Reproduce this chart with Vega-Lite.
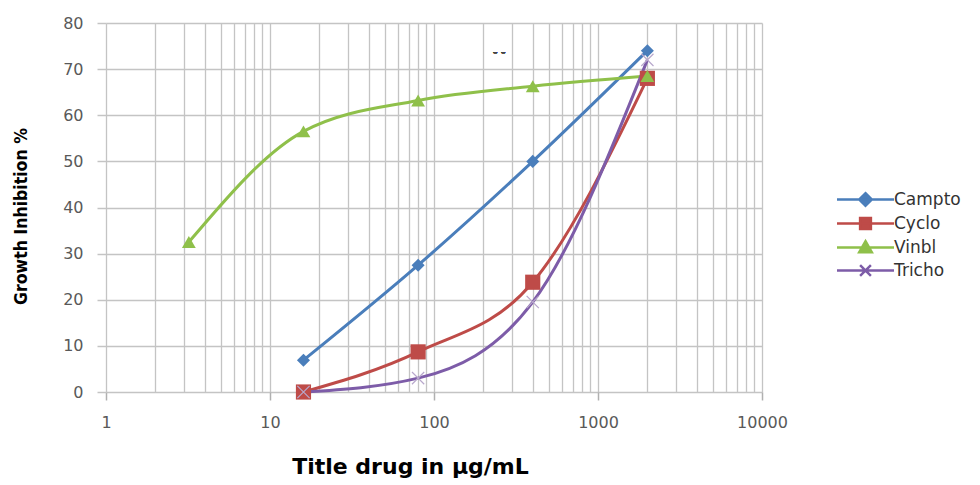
{
  "$schema": "https://vega.github.io/schema/vega-lite/v6.json",
  "width": 656,
  "height": 369,
  "autosize": {"type": "none"},
  "padding": {"left": 106, "top": 23, "right": 218, "bottom": 93},
  "background": "white",
  "config": {"view": {"stroke": null}},
  "data": {"values": [
    {"drug": "Campto", "conc": 16, "inhibition": 6.9},
    {"drug": "Campto", "conc": 80, "inhibition": 27.5},
    {"drug": "Campto", "conc": 400, "inhibition": 50},
    {"drug": "Campto", "conc": 2000, "inhibition": 74},
    {"drug": "Cyclo", "conc": 16, "inhibition": 0},
    {"drug": "Cyclo", "conc": 80, "inhibition": 8.7},
    {"drug": "Cyclo", "conc": 400, "inhibition": 23.8},
    {"drug": "Cyclo", "conc": 2000, "inhibition": 68},
    {"drug": "Vinbl", "conc": 3.2, "inhibition": 32.5},
    {"drug": "Vinbl", "conc": 16, "inhibition": 56.5},
    {"drug": "Vinbl", "conc": 80, "inhibition": 63.2},
    {"drug": "Vinbl", "conc": 400, "inhibition": 66.3},
    {"drug": "Vinbl", "conc": 2000, "inhibition": 68.5},
    {"drug": "Tricho", "conc": 16, "inhibition": 0},
    {"drug": "Tricho", "conc": 80, "inhibition": 3},
    {"drug": "Tricho", "conc": 400, "inhibition": 19.5},
    {"drug": "Tricho", "conc": 2000, "inhibition": 72}
  ]},
  "encoding": {
    "x": {
      "field": "conc", "type": "quantitative",
      "scale": {"type": "log", "domain": [1, 10000], "nice": false},
      "axis": {
        "values": [1,2,3,4,5,6,7,8,9,10,20,30,40,50,60,70,80,90,100,200,300,400,500,600,700,800,900,1000,2000,3000,4000,5000,6000,7000,8000,9000,10000],
        "labelExpr": "indexof([1,10,100,1000,10000], datum.value) >= 0 ? format(datum.value, 'd') : ''",
        "grid": true,
        "gridColor": "#c4c4c4",
        "gridWidth": 1.3,
        "domain": false,
        "tickColor": "#b0b0b0",
        "tickWidth": 1.5,
        "tickSize": 8,
        "tickOpacity": {"condition": {"test": "indexof([1,10,100,1000,10000], datum.value) >= 0", "value": 1}, "value": 0},
        "labelFont": "DejaVu Sans",
        "labelFontSize": 16,
        "labelColor": "#595959",
        "labelPadding": 14,
        "labelFlush": false,
        "labelOverlap": false,
        "title": "Title drug in μg/mL",
        "titleFont": "DejaVu Sans",
        "titleFontSize": 22,
        "titleFontWeight": "bold",
        "titleColor": "#000000",
        "titleX": 304,
        "titleAnchor": "middle",
        "titlePadding": 26
      }
    },
    "y": {
      "field": "inhibition", "type": "quantitative",
      "scale": {"domain": [0, 80], "nice": false},
      "axis": {
        "values": [0,10,20,30,40,50,60,70,80],
        "grid": true,
        "gridColor": "#c4c4c4",
        "gridWidth": 1.5,
        "domain": false,
        "tickColor": "#c4c4c4",
        "tickWidth": 1.5,
        "tickSize": 9,
        "labelFont": "DejaVu Sans",
        "labelFontSize": 16,
        "labelColor": "#595959",
        "labelPadding": 14,
        "title": "Growth Inhibition %",
        "titleFont": "DejaVu Sans Condensed",
        "titleFontSize": 17.5,
        "titleFontWeight": "bold",
        "titleColor": "#000000",
        "titleY": 193,
        "titlePadding": 32
      }
    },
    "color": {
      "field": "drug", "type": "nominal",
      "scale": {"domain": ["Campto", "Cyclo", "Vinbl", "Tricho"], "range": ["#4a7ebb", "#be4b48", "#8fc04a", "#7d5ca8"]},
      "legend": {
        "title": null,
        "orient": "none",
        "legendX": 751,
        "legendY": 168,
        "symbolSize": 144,
        "symbolStrokeWidth": 2.5,
        "labelFont": "DejaVu Sans",
        "labelFontSize": 17,
        "labelColor": "#333333",
        "labelOffset": 20,
        "rowPadding": 2,
        "encode": {
          "symbols": {
            "update": {
              "shape": {"signal": "datum.value === 'Campto' ? 'M-4.75,0H4.75M0,-1.05L1.05,0L0,1.05L-1.05,0Z' : datum.value === 'Cyclo' ? 'M-4.75,0H4.75M-0.9,-0.9H0.9V0.9H-0.9Z' : datum.value === 'Vinbl' ? 'M-4.75,0H4.75M0,-1.05L1.05,0.8H-1.05Z' : 'M-4.75,0H4.75M-0.9,-0.9L0.9,0.9M-0.9,0.9L0.9,-0.9'"},
              "fill": {"scale": "color", "field": "value"},
              "stroke": {"scale": "color", "field": "value"},
              "strokeWidth": {"value": 2.5},
              "opacity": {"value": 1}
            }
          }
        }
      }
    }
  },
  "layer": [
    {
      "mark": {"type": "line", "interpolate": "monotone", "strokeWidth": 3},
      "encoding": {
        "order": {"field": "conc", "type": "quantitative"}
      }
    },
    {
      "transform": [{"filter": "datum.drug === 'Campto'"}],
      "mark": {"type": "point", "filled": true, "opacity": 1, "shape": "diamond", "size": 170}
    },
    {
      "transform": [{"filter": "datum.drug === 'Cyclo'"}],
      "mark": {"type": "point", "filled": true, "opacity": 1, "shape": "square", "size": 230}
    },
    {
      "transform": [{"filter": "datum.drug === 'Vinbl'"}],
      "mark": {"type": "point", "filled": true, "opacity": 1, "shape": "triangle-up", "size": 190}
    },
    {
      "transform": [{"filter": "datum.drug === 'Tricho'"}],
      "mark": {"type": "point", "filled": false, "opacity": 1, "shape": "M-1,-1L1,1M-1,1L1,-1", "size": 150, "strokeWidth": 1.2, "stroke": "#b8a8cc"},
      "encoding": {"color": {"value": "#b8a8cc"}}
    },
    {
      "mark": {"type": "text", "text": "- -", "fontSize": 14, "color": "#444444", "font": "Open Sans"},
      "encoding": {
        "x": {"datum": 250},
        "y": {"datum": 73.5},
        "color": {"value": "#444444"}
      }
    }
  ]
}
